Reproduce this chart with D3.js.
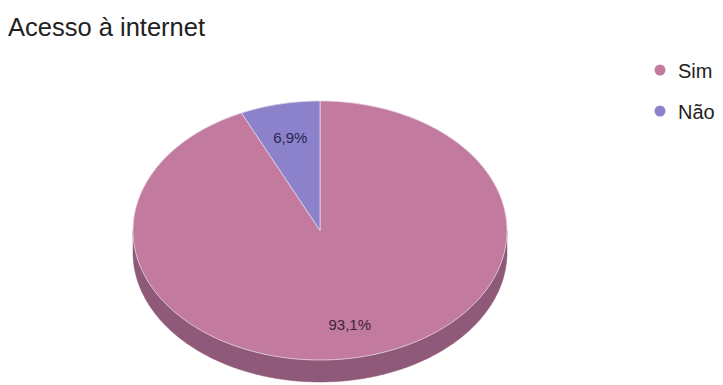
<!DOCTYPE html>
<html>
<head>
<meta charset="utf-8">
<script src="https://cdn.jsdelivr.net/npm/d3@7"></script>
<style>
  html, body { margin: 0; padding: 0; background: #fff; }
  svg { display: block; }
</style>
</head>
<body>
<svg id="chart" width="723" height="385"></svg>
<script>
const title = "Acesso à internet";
const categories = ["Sim", "Não"];
const values = [93.1, 6.9];
const valueLabels = ["93,1%", "6,9%"];
const topColors = ["#c27a9e", "#8c82cb"];
const sideColors = ["#8f5979", "#665e99"];
const labelColors = ["#3b2436", "#27264f"];

const W = 723, H = 385;
const svg = d3.select("#chart");
const cx = 320, cy = 230.5, rx = 187, ry = 129.5, depth = 22;

// title
svg.append("text")
  .attr("x", 8).attr("y", 36)
  .attr("font-family", "Liberation Sans, Arial, sans-serif")
  .attr("font-size", 25.5)
  .attr("fill", "#222")
  .text(title);

const pie = d3.pie().sort(null).value(d => d)(values);

// angle t measured clockwise from 12 o'clock
const px = t => cx + rx * Math.sin(t);
const py = (t, dy = 0) => cy - ry * Math.cos(t) + dy;

function arcPoints(a0, a1, dy) {
  const n = Math.max(2, Math.ceil((a1 - a0) / 0.01));
  const pts = [];
  for (let i = 0; i <= n; i++) {
    const t = a0 + (a1 - a0) * i / n;
    pts.push([px(t), py(t, dy)]);
  }
  return pts;
}

const g = svg.append("g");

// side walls (only front half visible: angles between PI/2 and 3PI/2)
pie.forEach((s, i) => {
  const a0 = Math.max(s.startAngle, Math.PI / 2);
  const a1 = Math.min(s.endAngle, 3 * Math.PI / 2);
  if (a1 <= a0) return;
  const top = arcPoints(a0, a1, 0);
  const bot = arcPoints(a0, a1, depth).reverse();
  g.append("path")
    .attr("d", d3.line()(top.concat(bot)) + "Z")
    .attr("fill", sideColors[i])
    .attr("stroke", sideColors[i])
    .attr("stroke-width", 0.5);
});

// top faces
pie.forEach((s, i) => {
  const pts = [[cx, cy]].concat(arcPoints(s.startAngle, s.endAngle, 0));
  g.append("path")
    .attr("d", d3.line()(pts) + "Z")
    .attr("fill", topColors[i])
    .attr("stroke", "#e9d3e6")
    .attr("stroke-width", 0.8)
    .attr("stroke-linejoin", "round");
});

// slice labels
pie.forEach((s, i) => {
  const m = (s.startAngle + s.endAngle) / 2;
  const f = 0.74;
  g.append("text")
    .attr("x", cx + rx * Math.sin(m) * f)
    .attr("y", cy - ry * Math.cos(m) * f + 1)
    .attr("dy", "0.35em")
    .attr("text-anchor", "middle")
    .attr("font-family", "Liberation Sans, Arial, sans-serif")
    .attr("font-size", 15)
    .attr("fill", labelColors[i])
    .text(valueLabels[i]);
});

// legend
const leg = svg.append("g");
categories.forEach((c, i) => {
  const y = 70 + i * 41;
  leg.append("circle")
    .attr("cx", 660).attr("cy", y).attr("r", 5.5)
    .attr("fill", topColors[i]);
  leg.append("text")
    .attr("x", 678).attr("y", y + 7.5)
    .attr("font-family", "Liberation Sans, Arial, sans-serif")
    .attr("font-size", 20)
    .attr("fill", "#222")
    .text(c);
});
</script>
</body>
</html>
